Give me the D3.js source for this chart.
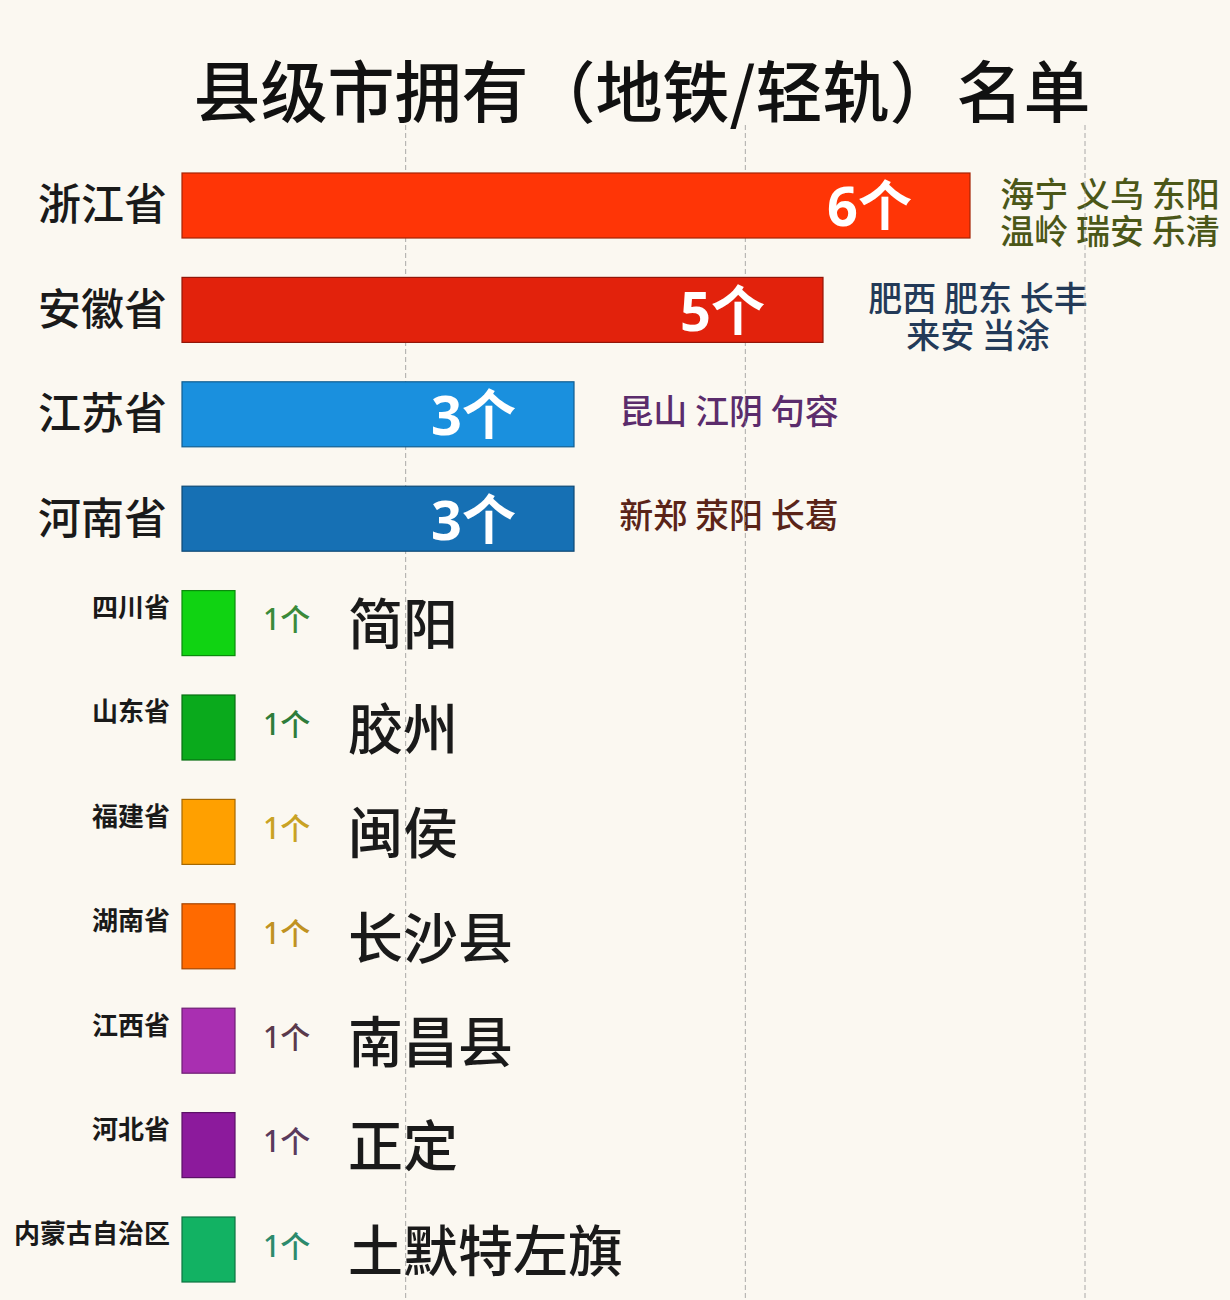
<!DOCTYPE html>
<meta charset="utf-8">

<style>

body {
  margin: 0;
  background: #fbf8f1;
}

svg text {
  font-family: "Noto Sans CJK SC", "Noto Sans", sans-serif;
}

.num {
  font-family: "Noto Sans", "Noto Sans CJK SC", sans-serif;
}

.grid line {
  stroke: #8a8a8a;
  stroke-width: 1px;
  stroke-dasharray: 5,3;
  stroke-opacity: .7;
}

</style>

<body>

<svg id="chart" width="1230" height="1300"></svg>

<script src="https://cdn.jsdelivr.net/npm/d3@7"></script>
<script>

const width = 1230
const height = 1300

const title = "县级市拥有（地铁/轻轨）名单"

const provinces = ["浙江省", "安徽省", "江苏省", "河南省", "四川省", "山东省", "福建省", "湖南省", "江西省", "河北省", "内蒙古自治区"]
const counts = [6, 5, 3, 3, 1, 1, 1, 1, 1, 1, 1]
const cities = [
  ["海宁 义乌 东阳", "温岭 瑞安 乐清"],
  ["肥西 肥东 长丰", "来安 当涂"],
  ["昆山 江阴 句容"],
  ["新郑 荥阳 长葛"],
  ["简阳"], ["胶州"], ["闽侯"], ["长沙县"], ["南昌县"], ["正定"], ["土默特左旗"]
]

const barColors = ["#ff3506", "#e2220c", "#1a90de", "#1670b4", "#10d312", "#0aaa1c", "#ffa000", "#ff6a00", "#a92fb1", "#8c1a9c", "#12b263"]
const noteColors = ["#4b5718", "#233a58", "#5b2c6c", "#5a2418", "#3a8a3a", "#2e7c3a", "#c9a224", "#c09222", "#5a3a4c", "#5a3a5c", "#2c8a6c"]

const gridTicks = [1, 2, 3]

const svg = d3.select("#chart")

// bar length: the small "1个" boxes are drawn much shorter than the big bars
const x = d3.scaleLinear()
    .domain([0, 1, 3, 5, 6])
    .range([182, 235, 574, 823, 970])

const y = d3.scalePoint()
    .domain(provinces)
    .range([205, 1249])

const grid = d3.scaleLinear().domain([0, 3]).range([66, 1085])

const rows = provinces.map((p, i) => ({
  province: p, count: counts[i], cities: cities[i],
  color: barColors[i], note: noteColors[i], big: counts[i] > 1
}))

svg.append("rect")
    .attr("width", width).attr("height", height)
    .attr("fill", "#fbf8f1")

svg.append("text")
    .attr("x", 642).attr("y", 117)
    .attr("text-anchor", "middle")
    .attr("font-size", 67)
    .attr("font-weight", 500)
    .attr("fill", "#111")
    .text(title)

// province names
svg.append("g").selectAll("text")
  .data(rows)
  .join("text")
    .attr("x", d => d.big ? 167 : 170)
    .attr("y", d => d.big ? y(d.province) : y(d.province) - 15)
    .attr("dy", "0.36em")
    .attr("text-anchor", "end")
    .attr("font-size", d => d.big ? 43 : 26)
    .attr("font-weight", d => d.big ? 500 : 700)
    .attr("fill", "#1a1a1a")
    .text(d => d.province)

// city names
const notes = svg.append("g")

rows.filter(d => d.big).forEach(d => {
  const cx = Math.min(x(d.count) + 155, 1110)
  const n = d.cities.length
  notes.append("text")
      .attr("x", cx)
      .attr("y", y(d.province) - (n - 1) / 2 * 37 + (n > 1 ? 8 : -2))
      .attr("text-anchor", "middle")
      .attr("font-size", 34)
      .attr("font-weight", 500)
      .attr("fill", d.note)
    .selectAll("tspan")
    .data(d.cities)
    .join("tspan")
      .attr("x", cx)
      .attr("dy", (c, i) => i ? 37 : "0.36em")
      .text(c => c)
})

rows.filter(d => !d.big).forEach(d => {
  notes.append("text")
      .attr("class", "num")
      .attr("x", 263)
      .attr("y", y(d.province) - 3)
      .attr("dy", "0.36em")
      .attr("font-size", 30)
      .attr("font-weight", 500)
      .attr("fill", d.note)
      .text(d.count + "个")
  notes.append("text")
      .attr("x", 348)
      .attr("y", y(d.province) + 2)
      .attr("dy", "0.36em")
      .attr("font-size", 55)
      .attr("font-weight", 500)
      .attr("fill", "#1a1a1a")
      .text(d.cities[0])
})

// dashed guides
svg.append("g")
    .attr("class", "grid")
  .selectAll("line")
  .data(gridTicks)
  .join("line")
    .attr("x1", d => grid(d)).attr("x2", d => grid(d))
    .attr("y1", 125).attr("y2", height)

// bars
svg.append("g").selectAll("rect")
  .data(rows)
  .join("rect")
    .attr("x", x(0))
    .attr("y", d => y(d.province) - 32)
    .attr("width", d => x(d.count) - x(0))
    .attr("height", 65)
    .attr("fill", d => d.color)
    .attr("stroke", d => d3.color(d.color).darker(1.2))
    .attr("stroke-width", 1.2)

// count labels inside the big bars
svg.append("g").selectAll("text")
  .data(rows.filter(d => d.big))
  .join("text")
    .attr("class", "num")
    .attr("x", d => x(d.count) - 58)
    .attr("y", d => y(d.province) + 2)
    .attr("dy", "0.36em")
    .attr("text-anchor", "end")
    .attr("font-size", 54)
    .attr("font-weight", 700)
    .attr("fill", "#fff")
    .text(d => d.count + "个")

</script>
